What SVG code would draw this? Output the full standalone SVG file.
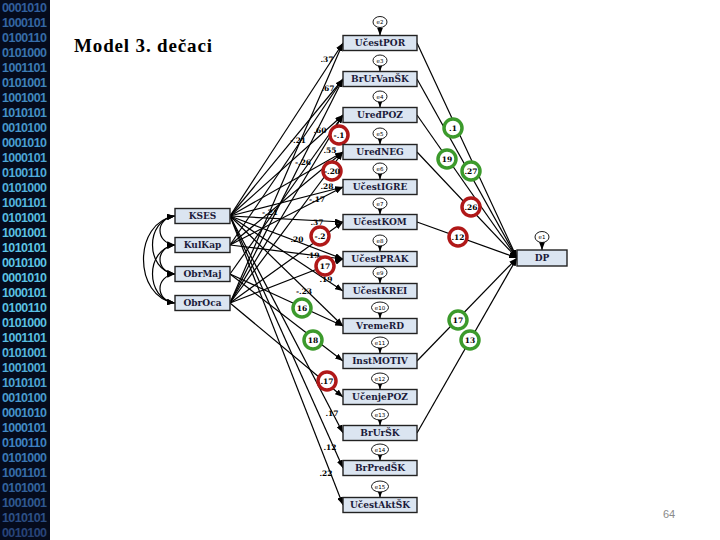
<svg xmlns="http://www.w3.org/2000/svg" width="720" height="540" viewBox="0 0 720 540">
<defs>
<linearGradient id="bin" gradientUnits="userSpaceOnUse" x1="0" y1="0" x2="0" y2="540">
<stop offset="0" stop-color="#2f5b9a"/>
<stop offset="0.28" stop-color="#4aa3d6"/>
<stop offset="0.45" stop-color="#5cc6e8"/>
<stop offset="0.62" stop-color="#58c0e4"/>
<stop offset="0.82" stop-color="#3d82c2"/>
<stop offset="1" stop-color="#263f73"/>
</linearGradient>
<marker id="ah" markerWidth="8" markerHeight="6" refX="8" refY="3" orient="auto-start-reverse" markerUnits="userSpaceOnUse">
<path d="M0,0 L8,3 L0,6 z" fill="#000"/>
</marker>
<style>
.bin{font-family:"Liberation Sans",Arial,sans-serif;font-weight:bold;font-size:12.5px;fill:url(#bin)}
.box{fill:#dbe5f1;stroke:#222;stroke-width:1.4}
.bt{font-family:"DejaVu Serif","Liberation Serif",serif;font-weight:bold;font-size:9px;fill:#1b1b3a;text-anchor:middle;dominant-baseline:central}
.ln{stroke:#000;stroke-width:1.2;fill:none;marker-end:url(#ah)}
.cv{stroke:#000;stroke-width:1.2;fill:none;marker-start:url(#ah);marker-end:url(#ah)}
.er{fill:#fff;stroke:#000;stroke-width:0.9}
.et{font-family:"DejaVu Sans",sans-serif;font-size:5.5px;fill:#000;text-anchor:middle;dominant-baseline:central}
.lb{font-family:"DejaVu Serif","Liberation Serif",serif;font-weight:bold;font-size:7.5px;fill:#000;text-anchor:middle;dominant-baseline:central}
.cr{fill:#fff;stroke:#b01818;stroke-width:3.5}
.cg{fill:#fff;stroke:#3c9a2c;stroke-width:3.5}
</style>
</defs>
<rect x="0" y="0" width="720" height="540" fill="#fff"/>
<g id="binary-strip">
<rect x="0" y="0" width="50" height="540" fill="#050b1c"/>
<text class="bin" x="2" y="12" textLength="45">0001010</text>
<text class="bin" x="2" y="27" textLength="45">1000101</text>
<text class="bin" x="2" y="42" textLength="45">0100110</text>
<text class="bin" x="2" y="57" textLength="45">0101000</text>
<text class="bin" x="2" y="72" textLength="45">1001101</text>
<text class="bin" x="2" y="87" textLength="45">0101001</text>
<text class="bin" x="2" y="102" textLength="45">1001001</text>
<text class="bin" x="2" y="117" textLength="45">1010101</text>
<text class="bin" x="2" y="132" textLength="45">0010100</text>
<text class="bin" x="2" y="147" textLength="45">0001010</text>
<text class="bin" x="2" y="162" textLength="45">1000101</text>
<text class="bin" x="2" y="177" textLength="45">0100110</text>
<text class="bin" x="2" y="192" textLength="45">0101000</text>
<text class="bin" x="2" y="207" textLength="45">1001101</text>
<text class="bin" x="2" y="222" textLength="45">0101001</text>
<text class="bin" x="2" y="237" textLength="45">1001001</text>
<text class="bin" x="2" y="252" textLength="45">1010101</text>
<text class="bin" x="2" y="267" textLength="45">0010100</text>
<text class="bin" x="2" y="282" textLength="45">0001010</text>
<text class="bin" x="2" y="297" textLength="45">1000101</text>
<text class="bin" x="2" y="312" textLength="45">0100110</text>
<text class="bin" x="2" y="327" textLength="45">0101000</text>
<text class="bin" x="2" y="342" textLength="45">1001101</text>
<text class="bin" x="2" y="357" textLength="45">0101001</text>
<text class="bin" x="2" y="372" textLength="45">1001001</text>
<text class="bin" x="2" y="387" textLength="45">1010101</text>
<text class="bin" x="2" y="402" textLength="45">0010100</text>
<text class="bin" x="2" y="417" textLength="45">0001010</text>
<text class="bin" x="2" y="432" textLength="45">1000101</text>
<text class="bin" x="2" y="447" textLength="45">0100110</text>
<text class="bin" x="2" y="462" textLength="45">0101000</text>
<text class="bin" x="2" y="477" textLength="45">1001101</text>
<text class="bin" x="2" y="492" textLength="45">0101001</text>
<text class="bin" x="2" y="507" textLength="45">1001001</text>
<text class="bin" x="2" y="522" textLength="45">1010101</text>
<text class="bin" x="2" y="537" textLength="45">0010100</text>
</g>
<text x="74" y="52" font-family="Liberation Serif, serif" font-weight="bold" font-size="19" fill="#000" textLength="138">Model 3. dečaci</text>
<text x="663" y="518" font-family="Liberation Sans, Arial, sans-serif" font-size="11" fill="#8a8a8a">64</text>

<g id="connectors">
<path class="cv" d="M175,216 C155,218 155,243 175,245"/>
<path class="cv" d="M175,245 C155,247 155,272 175,274"/>
<path class="cv" d="M175,274 C155,276 155,301 175,303"/>
<path class="cv" d="M175,216 C145,220 145,270 175,274"/>
<path class="cv" d="M175,245 C145,249 145,299 175,303"/>
<path class="cv" d="M175,216 C133,222 133,297 175,303"/>
<line class="ln" x1="230" y1="216" x2="343" y2="43"/>
<line class="ln" x1="230" y1="216" x2="343" y2="79"/>
<line class="ln" x1="230" y1="216" x2="343" y2="115"/>
<line class="ln" x1="230" y1="216" x2="343" y2="152"/>
<line class="ln" x1="230" y1="216" x2="343" y2="187"/>
<line class="ln" x1="230" y1="216" x2="343" y2="222"/>
<line class="ln" x1="230" y1="216" x2="343" y2="259"/>
<line class="ln" x1="230" y1="216" x2="343" y2="291"/>
<line class="ln" x1="230" y1="216" x2="343" y2="326"/>
<line class="ln" x1="230" y1="216" x2="343" y2="433"/>
<line class="ln" x1="230" y1="216" x2="343" y2="468"/>
<line class="ln" x1="230" y1="216" x2="343" y2="505"/>
<line class="ln" x1="230" y1="245" x2="343" y2="79"/>
<line class="ln" x1="230" y1="245" x2="343" y2="152"/>
<line class="ln" x1="230" y1="245" x2="343" y2="187"/>
<line class="ln" x1="230" y1="245" x2="343" y2="259"/>
<line class="ln" x1="230" y1="274" x2="343" y2="115"/>
<line class="ln" x1="230" y1="274" x2="343" y2="326"/>
<line class="ln" x1="230" y1="274" x2="343" y2="361"/>
<line class="ln" x1="230" y1="303" x2="343" y2="43"/>
<line class="ln" x1="230" y1="303" x2="343" y2="79"/>
<line class="ln" x1="230" y1="303" x2="343" y2="115"/>
<line class="ln" x1="230" y1="303" x2="343" y2="152"/>
<line class="ln" x1="230" y1="303" x2="343" y2="222"/>
<line class="ln" x1="230" y1="303" x2="343" y2="259"/>
<line class="ln" x1="230" y1="303" x2="343" y2="397"/>
<line class="ln" x1="417" y1="43" x2="517" y2="258"/>
<line class="ln" x1="417" y1="79" x2="517" y2="258"/>
<line class="ln" x1="417" y1="115" x2="517" y2="258"/>
<line class="ln" x1="417" y1="152" x2="517" y2="258"/>
<line class="ln" x1="417" y1="222" x2="517" y2="258"/>
<line class="ln" x1="417" y1="361" x2="517" y2="258"/>
<line class="ln" x1="417" y1="433" x2="517" y2="258"/>
<line class="ln" x1="380" y1="27.5" x2="380" y2="35.5"/>
<line class="ln" x1="380" y1="66" x2="380" y2="71.5"/>
<line class="ln" x1="380" y1="102" x2="380" y2="107.5"/>
<line class="ln" x1="380" y1="139" x2="380" y2="144.5"/>
<line class="ln" x1="380" y1="174" x2="380" y2="179.5"/>
<line class="ln" x1="380" y1="209" x2="380" y2="214.5"/>
<line class="ln" x1="380" y1="246" x2="380" y2="251.5"/>
<line class="ln" x1="380" y1="278" x2="380" y2="283.5"/>
<line class="ln" x1="380" y1="313" x2="380" y2="318.5"/>
<line class="ln" x1="380" y1="348" x2="380" y2="353.5"/>
<line class="ln" x1="380" y1="384" x2="380" y2="389.5"/>
<line class="ln" x1="380" y1="420" x2="380" y2="425.5"/>
<line class="ln" x1="380" y1="455" x2="380" y2="460.5"/>
<line class="ln" x1="380" y1="492" x2="380" y2="497.5"/>
<line class="ln" x1="542" y1="242.5" x2="542" y2="250"/>
</g>

<g id="coefficients">
<text class="lb" x="327" y="59">.37</text>
<text class="lb" x="328" y="88">.67</text>
<text class="lb" x="320" y="130">.60</text>
<text class="lb" x="298" y="140">-.21</text>
<text class="lb" x="330" y="150">.55</text>
<text class="lb" x="303" y="162">-.26</text>
<text class="lb" x="327" y="186">.28</text>
<text class="lb" x="317" y="199">-.17</text>
<text class="lb" x="270" y="212">-.21</text>
<text class="lb" x="317" y="222">.37</text>
<text class="lb" x="297" y="239">.20</text>
<text class="lb" x="313" y="255">.19</text>
<text class="lb" x="326" y="279">.19</text>
<text class="lb" x="304" y="291">-.23</text>
<text class="lb" x="332" y="413">.17</text>
<text class="lb" x="330" y="447">.12</text>
<text class="lb" x="326" y="473">.22</text>
</g>

<g id="highlights">
<circle class="cr" cx="339" cy="135" r="9"/><text class="lb" x="339" y="135">-.1</text>
<circle class="cr" cx="332" cy="171" r="9"/><text class="lb" x="332" y="171">-.20</text>
<circle class="cr" cx="320" cy="236" r="9"/><text class="lb" x="320" y="236">-.2</text>
<circle class="cr" cx="325" cy="266" r="9"/><text class="lb" x="325" y="266">17</text>
<circle class="cr" cx="327" cy="381" r="9"/><text class="lb" x="327" y="381">.17</text>
<circle class="cg" cx="302" cy="308" r="9"/><text class="lb" x="302" y="308">16</text>
<circle class="cg" cx="313" cy="340" r="9"/><text class="lb" x="313" y="340">18</text>
<circle class="cg" cx="453" cy="128" r="9"/><text class="lb" x="453" y="128">.1</text>
<circle class="cg" cx="447" cy="159" r="9"/><text class="lb" x="447" y="159">19</text>
<circle class="cg" cx="471" cy="171" r="9"/><text class="lb" x="471" y="171">.27</text>
<circle class="cr" cx="471" cy="207" r="9"/><text class="lb" x="471" y="207">.26</text>
<circle class="cr" cx="458" cy="237" r="9"/><text class="lb" x="458" y="237">.12</text>
<circle class="cg" cx="458" cy="320" r="9"/><text class="lb" x="458" y="320">17</text>
<circle class="cg" cx="470" cy="340" r="9"/><text class="lb" x="470" y="340">13</text>
</g>

<g id="KSES"><rect class="box" x="175" y="208.5" width="55" height="15"/><text class="bt" x="202.5" y="216">KSES</text></g>
<g id="KulKap"><rect class="box" x="175" y="237.5" width="55" height="15"/><text class="bt" x="202.5" y="245">KulKap</text></g>
<g id="ObrMaj"><rect class="box" x="175" y="266.5" width="55" height="15"/><text class="bt" x="202.5" y="274">ObrMaj</text></g>
<g id="ObrOca"><rect class="box" x="175" y="295.5" width="55" height="15"/><text class="bt" x="202.5" y="303">ObrOca</text></g>

<g id="UcestPOR"><ellipse class="er" cx="380" cy="22" rx="7" ry="5.5"/><text class="et" x="380" y="22">e2</text><rect class="box" x="343" y="35.5" width="74" height="15"/><text class="bt" x="380" y="43">UčestPOR</text></g>
<g id="BrUrVanSK"><ellipse class="er" cx="380" cy="60.5" rx="7" ry="5.5"/><text class="et" x="380" y="60.5">e3</text><rect class="box" x="343" y="71.5" width="74" height="15"/><text class="bt" x="380" y="79">BrUrVanŠK</text></g>
<g id="UredPOZ"><ellipse class="er" cx="380" cy="96.5" rx="7" ry="5.5"/><text class="et" x="380" y="96.5">e4</text><rect class="box" x="343" y="107.5" width="74" height="15"/><text class="bt" x="380" y="115">UređPOZ</text></g>
<g id="UredNEG"><ellipse class="er" cx="380" cy="133.5" rx="7" ry="5.5"/><text class="et" x="380" y="133.5">e5</text><rect class="box" x="343" y="144.5" width="74" height="15"/><text class="bt" x="380" y="152">UređNEG</text></g>
<g id="UcestIGRE"><ellipse class="er" cx="380" cy="168.5" rx="7" ry="5.5"/><text class="et" x="380" y="168.5">e6</text><rect class="box" x="343" y="179.5" width="74" height="15"/><text class="bt" x="380" y="187">UčestIGRE</text></g>
<g id="UcestKOM"><ellipse class="er" cx="380" cy="203.5" rx="7" ry="5.5"/><text class="et" x="380" y="203.5">e7</text><rect class="box" x="343" y="214.5" width="74" height="15"/><text class="bt" x="380" y="222">UčestKOM</text></g>
<g id="UcestPRAK"><ellipse class="er" cx="380" cy="240.5" rx="7" ry="5.5"/><text class="et" x="380" y="240.5">e8</text><rect class="box" x="343" y="251.5" width="74" height="15"/><text class="bt" x="380" y="259">UčestPRAK</text></g>
<g id="UcestKREI"><ellipse class="er" cx="380" cy="272.5" rx="7" ry="5.5"/><text class="et" x="380" y="272.5">e9</text><rect class="box" x="343" y="283.5" width="74" height="15"/><text class="bt" x="380" y="291">UčestKREI</text></g>
<g id="VremeRD"><ellipse class="er" cx="380" cy="307.5" rx="8.5" ry="5.5"/><text class="et" x="380" y="307.5">e10</text><rect class="box" x="343" y="318.5" width="74" height="15"/><text class="bt" x="380" y="326">VremeRD</text></g>
<g id="InstMOTIV"><ellipse class="er" cx="380" cy="342.5" rx="8.5" ry="5.5"/><text class="et" x="380" y="342.5">e11</text><rect class="box" x="343" y="353.5" width="74" height="15"/><text class="bt" x="380" y="361">InstMOTIV</text></g>
<g id="UcenjePOZ"><ellipse class="er" cx="380" cy="378.5" rx="8.5" ry="5.5"/><text class="et" x="380" y="378.5">e12</text><rect class="box" x="343" y="389.5" width="74" height="15"/><text class="bt" x="380" y="397">UčenjePOZ</text></g>
<g id="BrUrSK"><ellipse class="er" cx="380" cy="414.5" rx="8.5" ry="5.5"/><text class="et" x="380" y="414.5">e13</text><rect class="box" x="343" y="425.5" width="74" height="15"/><text class="bt" x="380" y="433">BrUrŠK</text></g>
<g id="BrPredSK"><ellipse class="er" cx="380" cy="449.5" rx="8.5" ry="5.5"/><text class="et" x="380" y="449.5">e14</text><rect class="box" x="343" y="460.5" width="74" height="15"/><text class="bt" x="380" y="468">BrPredŠK</text></g>
<g id="UcestAktSK"><ellipse class="er" cx="380" cy="486.5" rx="8.5" ry="5.5"/><text class="et" x="380" y="486.5">e15</text><rect class="box" x="343" y="497.5" width="74" height="15"/><text class="bt" x="380" y="505">UčestAktŠK</text></g>

<g id="DP"><ellipse class="er" cx="542" cy="237" rx="7" ry="5.5"/><text class="et" x="542" y="237">e1</text><rect class="box" x="517" y="250" width="50" height="16"/><text class="bt" x="542" y="258">DP</text></g>
</svg>
